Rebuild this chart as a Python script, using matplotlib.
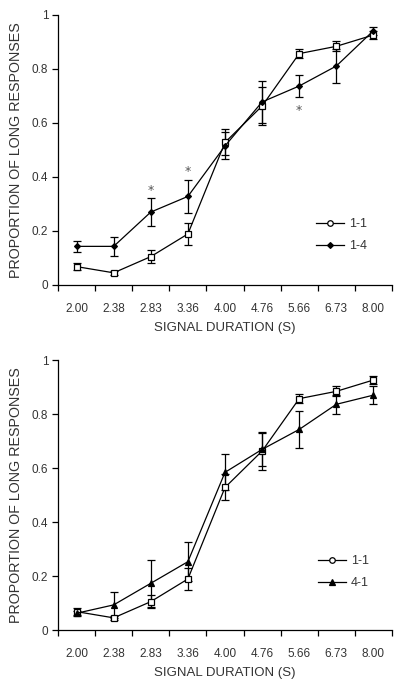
import matplotlib
matplotlib.use('Agg')
import numpy as np
import matplotlib.pyplot as plt
from matplotlib.lines import Line2D

# signal durations (categorical x axis)
durations = ['2.00', '2.38', '2.83', '3.36', '4.00', '4.76', '5.66', '6.73', '8.00']

# group 1-1 (shown in both panels)
g11_mean = [0.068, 0.045, 0.105, 0.189, 0.528, 0.663, 0.857, 0.884, 0.926]
g11_err = [0.013, 0.008, 0.025, 0.041, 0.048, 0.072, 0.018, 0.019, 0.016]

# group 1-4 (top panel)
g14_mean = [0.143, 0.143, 0.270, 0.328, 0.515, 0.678, 0.737, 0.811, 0.942]
g14_err = [0.021, 0.035, 0.053, 0.062, 0.050, 0.077, 0.040, 0.062, 0.015]

# group 4-1 (bottom panel)
g41_mean = [0.062, 0.093, 0.173, 0.253, 0.584, 0.669, 0.743, 0.836, 0.870]
g41_err = [0.010, 0.047, 0.087, 0.072, 0.067, 0.061, 0.067, 0.036, 0.032]

# significance marks on top panel: (category index, y position)
stars_idx = [2, 3, 6]
stars_y = [0.35, 0.42, 0.645]

TXT = '#333333'
FONT = 'Liberation Sans'


def style_axis(ax):
    n = len(durations)
    ax.set_xlim(-0.5, n - 0.5)
    ax.set_ylim(0, 1)
    ax.spines['top'].set_visible(False)
    ax.spines['right'].set_visible(False)
    ax.spines['left'].set_linewidth(0.9)
    ax.spines['bottom'].set_linewidth(0.9)

    # ticks between categories, labels at category centres
    ax.set_xticks(np.arange(-0.5, n, 1.0))
    ax.set_xticklabels([])
    ax.set_xticks(np.arange(n), minor=True)
    ax.set_xticklabels(durations, minor=True, fontsize=8.5, color=TXT, family=FONT)
    ax.tick_params(axis='x', which='major', direction='out', length=4, width=0.9)
    ax.tick_params(axis='x', which='minor', length=0, pad=13)

    ax.set_yticks([0, 0.2, 0.4, 0.6, 0.8, 1.0])
    ax.set_yticklabels(['0', '0.2', '0.4', '0.6', '0.8', '1'],
                       fontsize=8.5, color=TXT, family=FONT)
    ax.tick_params(axis='y', direction='out', length=4, width=0.9, pad=3)

    ax.set_ylabel('PROPORTION OF LONG RESPONSES', fontsize=10.3, color=TXT,
                  family=FONT, labelpad=6)
    ax.set_xlabel('SIGNAL DURATION (S)', fontsize=9.5, color=TXT,
                  family=FONT, labelpad=5)


def draw_group(ax, mean, err, marker, face, ms):
    x = np.arange(len(mean))
    ax.errorbar(x, mean, yerr=err, color='black', lw=0.9, elinewidth=0.9,
                capsize=3, capthick=0.9, marker=marker, ms=ms,
                mfc=face, mec='black', mew=0.9)


def add_legend(ax, entries, anchor):
    handles = [Line2D([], [], color='black', lw=0.9, marker=m, ms=s,
                      mfc=f, mec='black', mew=0.9) for m, f, s, _ in entries]
    labels = [lab for _, _, _, lab in entries]
    leg = ax.legend(handles, labels, loc='lower left', bbox_to_anchor=anchor,
                    frameon=False, handlelength=2.2, handletextpad=0.4,
                    labelspacing=0.8, prop={'family': FONT, 'size': 9})
    for t in leg.get_texts():
        t.set_color(TXT)


fig = plt.figure(figsize=(4.0, 6.88), dpi=100)
ax1 = fig.add_axes([0.145, 0.5858, 0.835, 0.3924])
ax2 = fig.add_axes([0.145, 0.0843, 0.835, 0.3924])

# --------------- top panel ---------------
draw_group(ax1, g11_mean, g11_err, 's', 'white', 4)
draw_group(ax1, g14_mean, g14_err, 'D', 'black', 3)
for i, y in zip(stars_idx, stars_y):
    ax1.text(i, y, '*', ha='center', va='center', fontsize=9, color='#555555')
style_axis(ax1)
add_legend(ax1, [('o', 'white', 4, '1-1'), ('D', 'black', 3, '1-4')], (0.74, 0.08))

# --------------- bottom panel ---------------
draw_group(ax2, g11_mean, g11_err, 's', 'white', 4)
draw_group(ax2, g41_mean, g41_err, '^', 'black', 4)
style_axis(ax2)
add_legend(ax2, [('o', 'white', 4, '1-1'), ('^', 'black', 4, '4-1')], (0.745, 0.11))

fig.savefig('out.png', dpi=100, facecolor='white')
